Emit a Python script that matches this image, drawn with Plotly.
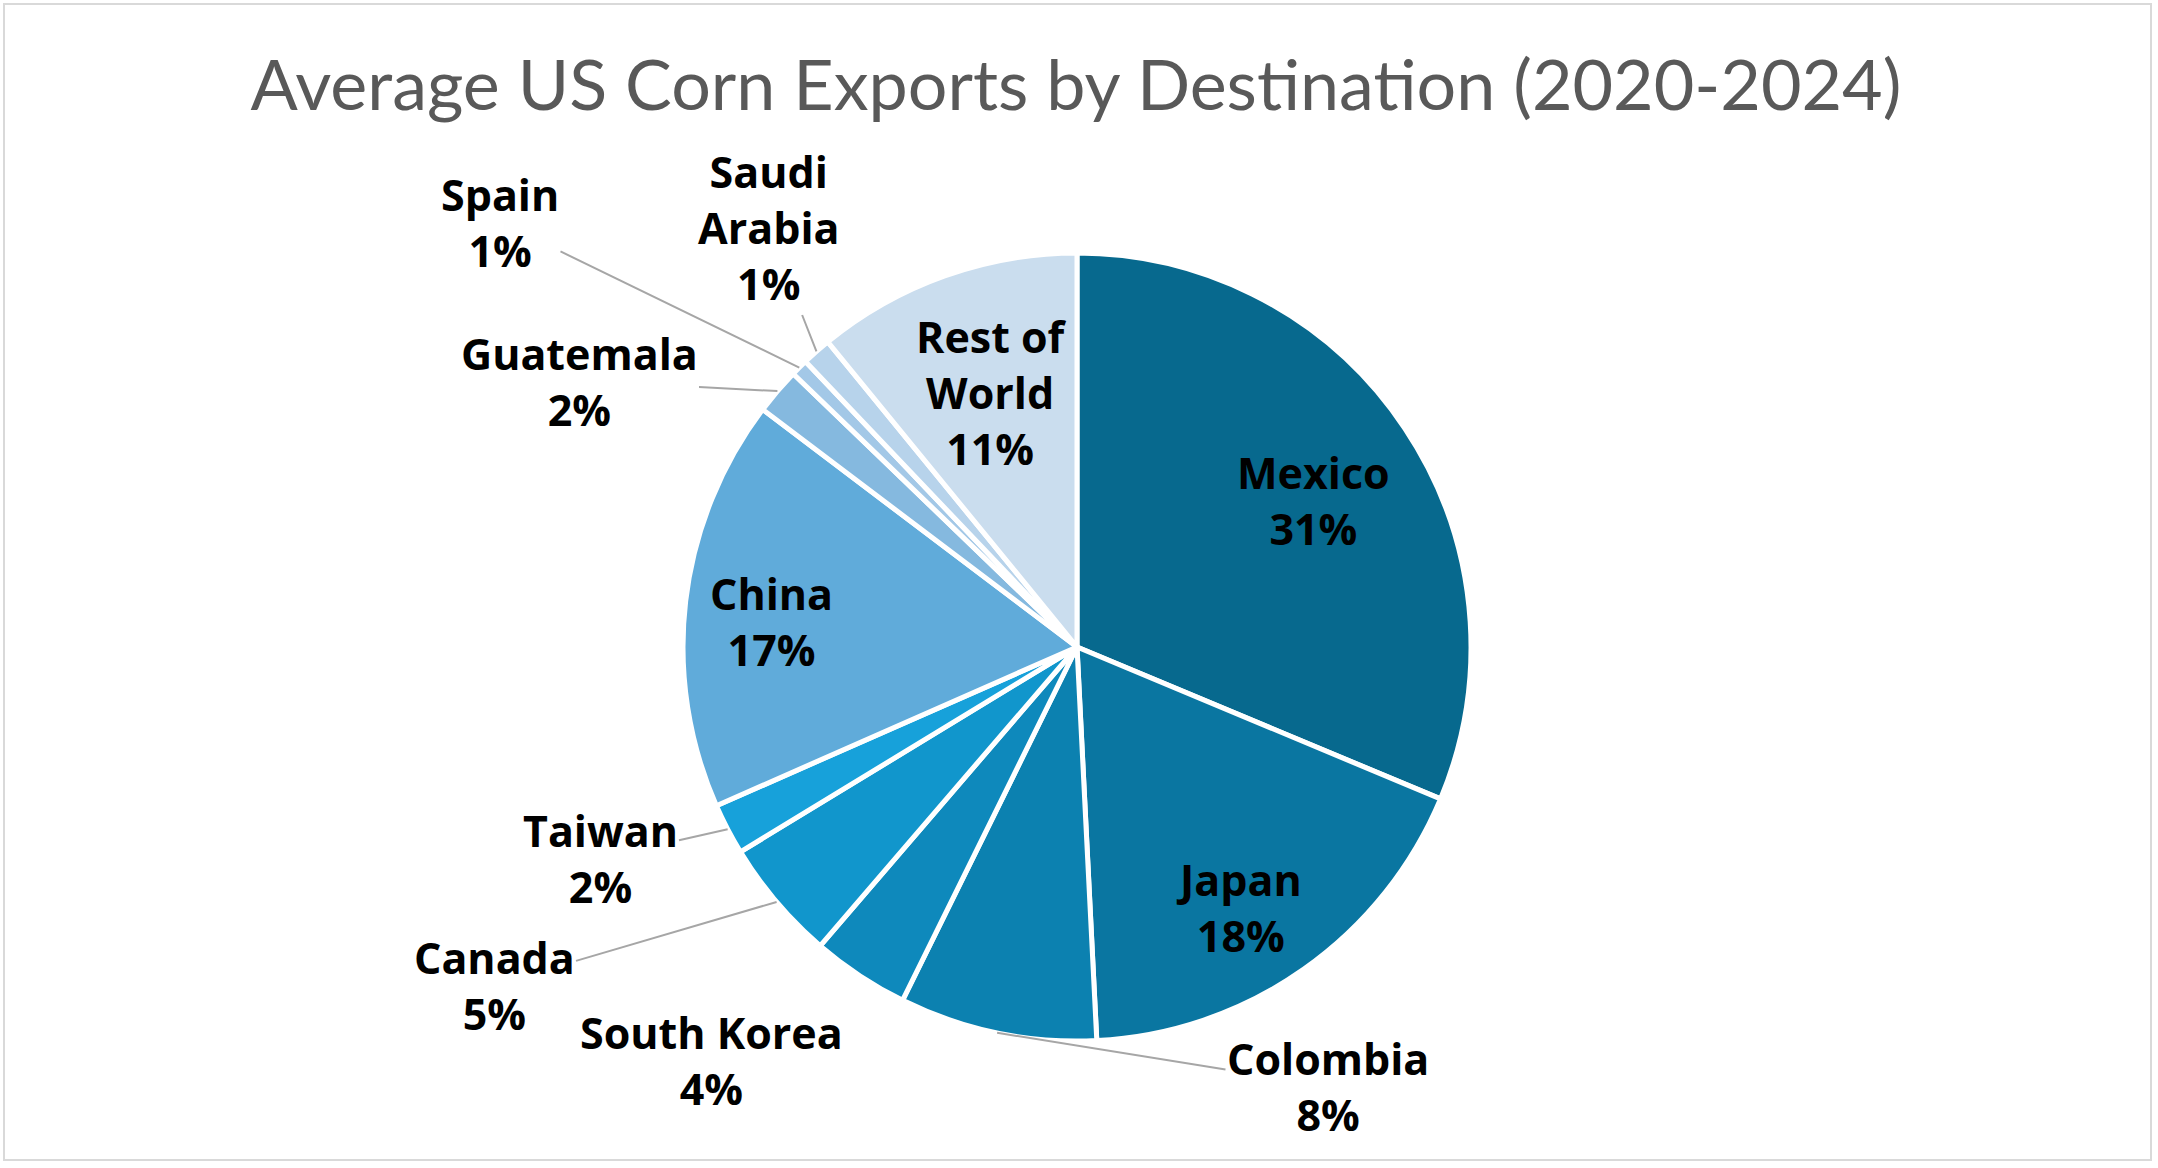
import math
import plotly.graph_objects as go

# data (share of average exports, %)
countries = ["Mexico", "Japan", "Colombia", "South Korea", "Canada", "Taiwan",
             "China", "Guatemala", "Spain", "Saudi Arabia", "Rest of World"]
shares = [31.3, 17.9, 8.1, 4.0, 5.0, 2.1, 16.9, 1.9, 0.7, 1.2, 10.9]
slice_colors = ["#07698E", "#0A76A1", "#0C81B0", "#0E89BC", "#1196CC", "#17A1DA",
                "#60ABDA", "#85B9DF", "#A3C8E7", "#B7D3EB", "#CADDEE"]

# how the names wrap in the labels
wrapped = {"Saudi Arabia": "Saudi<br>Arabia", "Rest of World": "Rest of<br>World"}

# canvas and pie geometry (pixels)
W, H = 2158, 1168
CX, CY, R = 1077, 647, 394

# label centres in pixels, and which labels get a leader line
label_xy = {
    "Mexico": (1313, 500), "Japan": (1239, 907), "Colombia": (1328, 1086),
    "South Korea": (711, 1060), "Canada": (494, 985), "Taiwan": (600, 858),
    "China": (771, 621), "Guatemala": (579, 381), "Spain": (500, 222),
    "Saudi Arabia": (768, 228), "Rest of World": (992, 392),
}
leaders = ["Colombia", "Canada", "Taiwan", "Guatemala", "Spain", "Saudi Arabia"]


def px_to_paper(x, y):
    return x / W, 1 - y / H


fig = go.Figure()
fig.add_trace(go.Pie(
    labels=countries, values=shares, sort=False, direction="clockwise", rotation=0,
    marker=dict(colors=slice_colors, line=dict(color="white", width=5)),
    textinfo="none", hoverinfo="label+percent", showlegend=False,
    domain=dict(x=[(CX - R) / W, (CX + R) / W], y=[1 - (CY + R) / H, 1 - (CY - R) / H]),
))

total = sum(shares)
cum = 0
for name, v in zip(countries, shares):
    mid = 2 * math.pi * (cum + v / 2) / total
    cum += v
    text = "%s<br>%d%%" % (wrapped.get(name, name), round(v / total * 100))
    tx, ty = label_xy[name]
    font = dict(family="Open Sans", size=43, color="black", weight="bold")
    if name in leaders:
        hx = CX + R * math.sin(mid)
        hy = CY - R * math.cos(mid)
        x, y = px_to_paper(hx, hy)
        fig.add_annotation(x=x, y=y, xref="paper", yref="paper", text=text, font=font,
                           showarrow=True, arrowhead=0, arrowwidth=2, arrowcolor="#A6A6A6",
                           axref="pixel", ayref="pixel", ax=tx - hx, ay=ty - hy, standoff=0)
    else:
        x, y = px_to_paper(tx, ty)
        fig.add_annotation(x=x, y=y, xref="paper", yref="paper", text=text, font=font,
                           showarrow=False, xanchor="center", yanchor="middle")

# thin frame round the chart area
fig.add_shape(type="rect", xref="paper", yref="paper",
              x0=4 / W, x1=2151 / W, y0=1 - 1160 / H, y1=1 - 4 / H,
              line=dict(color="#D9D9D9", width=2))

fig.update_layout(
    width=W, height=H,
    margin=dict(l=0, r=0, t=0, b=0),
    paper_bgcolor="white", plot_bgcolor="white",
    title=dict(text="Average US Corn Exports by Destination (2020-2024)",
               x=1076 / W, xanchor="center", y=1 - 85 / H, yanchor="middle",
               font=dict(family="Lato", size=70, color="#595959")),
)

# page body has a default margin; drop it so the chart sits at the window corner
fig.write_html("out.html", config={"displayModeBar": False},
               post_script="document.body.style.margin='0';")
